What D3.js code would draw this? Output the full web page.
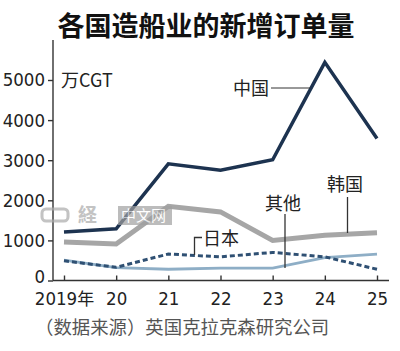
<!DOCTYPE html>
<html>
<head>
<meta charset="utf-8">
<script src="https://cdn.jsdelivr.net/npm/d3@7"></script>
<style>
  body { margin: 0; background: #fff; }
  svg { display: block; }
</style>
</head>
<body>
<svg id="chart" width="400" height="351"></svg>
<script>
const years = [2019, 2020, 2021, 2022, 2023, 2024, 2025]
const yearLabels = ['2019年', '20', '21', '22', '23', '24', '25']
const yTicks = [0, 1000, 2000, 3000, 4000, 5000]

// 万CGT
const china = [1210, 1290, 2910, 2750, 3010, 5440, 3540]
const korea = [960, 910, 1850, 1710, 1000, 1130, 1190]
const japan = [490, 330, 660, 590, 700, 590, 280]
const others = [510, 320, 280, 310, 310, 570, 660]

const svg = d3.select('#chart')
const numFont = '"Liberation Sans Narrow", "DejaVu Sans Condensed", sans-serif'
const cjkFont = '"Noto Sans CJK SC", sans-serif'

const x = d3.scaleLinear().domain([2019, 2025]).range([64, 377])
const y = d3.scaleLinear().domain([0, 5000]).range([280.5, 80])

// title
svg.append('text')
    .attr('x', 206).attr('y', 36)
    .attr('text-anchor', 'middle')
    .style('font-family', cjkFont)
    .style('font-weight', 'bold')
    .style('font-size', '27px')
    .attr('fill', '#111')
    .text('各国造船业的新增订单量')

// axes
const yAx = svg.append('g')
    .attr('transform', 'translate(53,0)')
    .call(d3.axisLeft(y).tickValues(yTicks).tickSize(5).tickPadding(3).tickFormat(d3.format('d')))
yAx.select('.domain').attr('d', `M0,40V${y(0)}`)
const xAx = svg.append('g')
    .attr('transform', `translate(0,${y(0)})`)
    .call(d3.axisBottom(x).tickValues(years).tickSize(-5).tickPadding(11)
        .tickFormat((d, i) => yearLabels[i].replace('年', '')))
xAx.select('.domain').attr('d', 'M53,0H389')

svg.selectAll('.domain, .tick line').attr('stroke', '#333').attr('stroke-width', 1.4)
svg.selectAll('.tick text')
    .attr('fill', '#222')
    .style('font-family', numFont)
    .style('font-size', '18.5px')
xAx.selectAll('.tick text').attr('dy', '0.71em')
yAx.selectAll('.tick').filter(d => d == 0).select('text').attr('dy', '0.1em')

// the 年 after 2019 is its own text, next to the number
xAx.selectAll('.tick').filter(d => d == 2019).each(function() {
    const t = d3.select(this).select('text')
    const w = t.node().getComputedTextLength()
    const total = w + 17
    t.attr('text-anchor', 'start').attr('x', -total / 2)
    d3.select(this).append('text')
        .attr('x', -total / 2 + w).attr('y', 11 + 0.71 * 18.5)
        .attr('fill', '#222')
        .attr('text-anchor', 'start')
        .style('font-family', cjkFont).style('font-size', '17px')
        .text('年')
})

svg.append('text')
    .attr('x', 61).attr('y', 87)
    .style('font-family', cjkFont)
    .style('font-size', '18px')
    .attr('fill', '#222')
    .text('万CGT')

const line = d3.line()
    .x((d, i) => x(years[i]))
    .y(d => y(d))

const series = [
    {vals: others, color: '#8eaec6', width: 2.8, dash: null},
    {vals: korea, color: '#a6a6a6', width: 5, dash: null},
    {vals: japan, color: '#2f5073', width: 3, dash: '5,3'},
    {vals: china, color: '#1d3350', width: 3.5, dash: null}
]
series.forEach(s => {
    svg.append('path')
        .datum(s.vals)
        .attr('d', line)
        .attr('fill', 'none')
        .attr('stroke', s.color)
        .attr('stroke-width', s.width)
        .attr('stroke-dasharray', s.dash)
        .attr('stroke-linejoin', 'miter')
})

// watermark
const wm = svg.append('g').attr('opacity', 0.7)
wm.append('rect')
    .attr('x', 42).attr('y', 209).attr('width', 26).attr('height', 12).attr('rx', 4)
    .attr('fill', 'none').attr('stroke', '#aaa').attr('stroke-width', 3)
wm.append('text')
    .attr('x', 78).attr('y', 222)
    .style('font-family', cjkFont).style('font-weight', 'bold').style('font-size', '19px')
    .attr('fill', '#aaa')
    .text('経')
wm.append('rect')
    .attr('x', 118).attr('y', 206).attr('width', 54).attr('height', 19)
    .attr('fill', '#a0a0a0')
wm.append('text')
    .attr('x', 121).attr('y', 221)
    .style('font-family', cjkFont).style('font-size', '15px')
    .attr('fill', '#fff')
    .text('中文网')

// labels
const labelG = svg.append('g')
    .style('font-family', cjkFont)
    .style('font-size', '18px')
    .attr('fill', '#222')

labelG.append('text').attr('x', 233).attr('y', 95).text('中国')
labelG.append('line')
    .attr('x1', 271).attr('x2', x(2023) + (x(2024) - x(2023)) * 0.72)
    .attr('y1', 88).attr('y2', 88)
    .attr('stroke', '#333').attr('stroke-width', 1)

labelG.append('text').attr('x', 345).attr('y', 191).attr('text-anchor', 'middle').text('韩国')
labelG.append('line')
    .attr('x1', 347.5).attr('x2', 347.5).attr('y1', 197).attr('y2', 233)
    .attr('stroke', '#333').attr('stroke-width', 1.3)

labelG.append('text').attr('x', 283).attr('y', 210).attr('text-anchor', 'middle').text('其他')
labelG.append('line')
    .attr('x1', 285).attr('x2', 285).attr('y1', 214).attr('y2', 268)
    .attr('stroke', '#333').attr('stroke-width', 1.3)

labelG.append('text').attr('x', 203).attr('y', 245).text('日本')
labelG.append('path')
    .attr('d', 'M202,237.5H194.5V255')
    .attr('fill', 'none')
    .attr('stroke', '#333').attr('stroke-width', 1.3)

// source
svg.append('text')
    .attr('x', 35).attr('y', 334)
    .style('font-family', cjkFont)
    .style('font-size', '18.4px')
    .attr('fill', '#555')
    .text('（数据来源）英国克拉克森研究公司')
</script>
</body>
</html>
